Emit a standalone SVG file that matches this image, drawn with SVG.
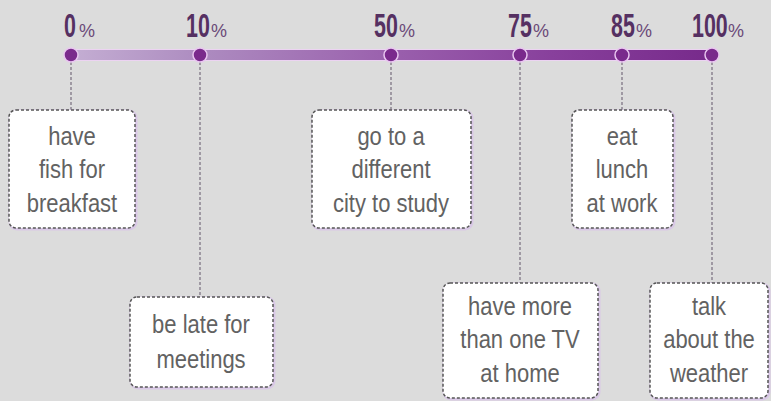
<svg xmlns="http://www.w3.org/2000/svg" width="771" height="401" viewBox="0 0 771 401">
<defs>
<linearGradient id="bar" x1="71" y1="0" x2="712" y2="0" gradientUnits="userSpaceOnUse">
<stop offset="0" stop-color="#c4aed3"/>
<stop offset="0.2" stop-color="#ad8cc0"/>
<stop offset="0.5" stop-color="#9a60ad"/>
<stop offset="0.75" stop-color="#88409c"/>
<stop offset="1" stop-color="#772a8b"/>
</linearGradient>
</defs>
<style>
.pct{font-family:"Liberation Sans",Arial,sans-serif;font-weight:bold;font-size:34px;fill:#553062}
.sym{font-family:"Liberation Sans",Arial,sans-serif;font-size:18px;fill:#6a4a78}
.dot{fill:#7a2a8c;stroke:#e9c6f0;stroke-width:1.5}
.conn{stroke:#8a8290;stroke-width:1.5;stroke-dasharray:3 2;fill:none}
.box{fill:#ffffff;stroke:#555555;stroke-width:1.5;stroke-dasharray:3 2}
.shadow{fill:none;stroke:#d9c8e6;stroke-width:3}
.lbl{font-family:"Liberation Sans",Arial,sans-serif;font-size:25px;fill:#626262;text-anchor:middle}
</style>
<rect width="771" height="401" fill="#dcdcdc"/>

<g id="timeline">
<rect x="70" y="49" width="643" height="12" rx="3" fill="#ecd3f2"/>
<rect x="71" y="50" width="641" height="10" fill="url(#bar)"/>
</g>

<g id="connectors">
<line class="conn" x1="71" y1="62" x2="71" y2="110"/>
<line class="conn" x1="200" y1="62" x2="200" y2="297"/>
<line class="conn" x1="391" y1="62" x2="391" y2="110"/>
<line class="conn" x1="520" y1="62" x2="520" y2="283"/>
<line class="conn" x1="622" y1="62" x2="622" y2="110"/>
<line class="conn" x1="712" y1="62" x2="712" y2="283"/>
</g>

<g id="m0">
<circle class="dot" cx="71" cy="55" r="7"/>
<text class="pct" transform="translate(64,37) scale(0.63,1)">0</text>
<text class="sym" x="79" y="37">%</text>
</g>
<g id="m10">
<circle class="dot" cx="200" cy="55" r="7"/>
<text class="pct" transform="translate(186,37) scale(0.63,1)">10</text>
<text class="sym" x="211" y="37">%</text>
</g>
<g id="m50">
<circle class="dot" cx="391" cy="55" r="7"/>
<text class="pct" transform="translate(374,37) scale(0.63,1)">50</text>
<text class="sym" x="399" y="37">%</text>
</g>
<g id="m75">
<circle class="dot" cx="520" cy="55" r="7"/>
<text class="pct" transform="translate(508,37) scale(0.63,1)">75</text>
<text class="sym" x="533" y="37">%</text>
</g>
<g id="m85">
<circle class="dot" cx="622" cy="55" r="7"/>
<text class="pct" transform="translate(611,37) scale(0.63,1)">85</text>
<text class="sym" x="636" y="37">%</text>
</g>
<g id="m100">
<circle class="dot" cx="712" cy="55" r="7"/>
<text class="pct" transform="translate(692,37) scale(0.63,1)">100</text>
<text class="sym" x="728" y="37">%</text>
</g>

<g id="box-fish">
<rect class="shadow" x="10" y="111" width="126" height="118" rx="7"/>
<rect class="box" x="9" y="110" width="126" height="118" rx="7"/>
<g transform="translate(72,0) scale(0.88,1)">
<text class="lbl" x="0" y="145">have</text>
<text class="lbl" x="0" y="178">fish for</text>
<text class="lbl" x="0" y="212">breakfast</text>
</g>
</g>

<g id="box-late">
<rect class="shadow" x="131" y="298" width="143" height="90" rx="7"/>
<rect class="box" x="130" y="297" width="143" height="90" rx="7"/>
<g transform="translate(201,0) scale(0.88,1)">
<text class="lbl" x="0" y="333">be late for</text>
<text class="lbl" x="0" y="368">meetings</text>
</g>
</g>

<g id="box-city">
<rect class="shadow" x="313" y="111" width="159" height="118" rx="7"/>
<rect class="box" x="312" y="110" width="159" height="118" rx="7"/>
<g transform="translate(391,0) scale(0.88,1)">
<text class="lbl" x="0" y="145">go to a</text>
<text class="lbl" x="0" y="178">different</text>
<text class="lbl" x="0" y="212">city to study</text>
</g>
</g>

<g id="box-lunch">
<rect class="shadow" x="573" y="111" width="101" height="118" rx="7"/>
<rect class="box" x="572" y="110" width="101" height="118" rx="7"/>
<g transform="translate(622,0) scale(0.88,1)">
<text class="lbl" x="0" y="145">eat</text>
<text class="lbl" x="0" y="178">lunch</text>
<text class="lbl" x="0" y="212">at work</text>
</g>
</g>

<g id="box-tv">
<rect class="shadow" x="444" y="284" width="155" height="115" rx="7"/>
<rect class="box" x="443" y="283" width="155" height="115" rx="7"/>
<g transform="translate(520,0) scale(0.88,1)">
<text class="lbl" x="0" y="315">have more</text>
<text class="lbl" x="0" y="348">than one TV</text>
<text class="lbl" x="0" y="382">at home</text>
</g>
</g>

<g id="box-weather">
<rect class="shadow" x="651" y="284" width="118" height="115" rx="7"/>
<rect class="box" x="650" y="283" width="118" height="115" rx="7"/>
<g transform="translate(709,0) scale(0.88,1)">
<text class="lbl" x="0" y="315">talk</text>
<text class="lbl" x="0" y="348">about the</text>
<text class="lbl" x="0" y="382">weather</text>
</g>
</g>
</svg>
